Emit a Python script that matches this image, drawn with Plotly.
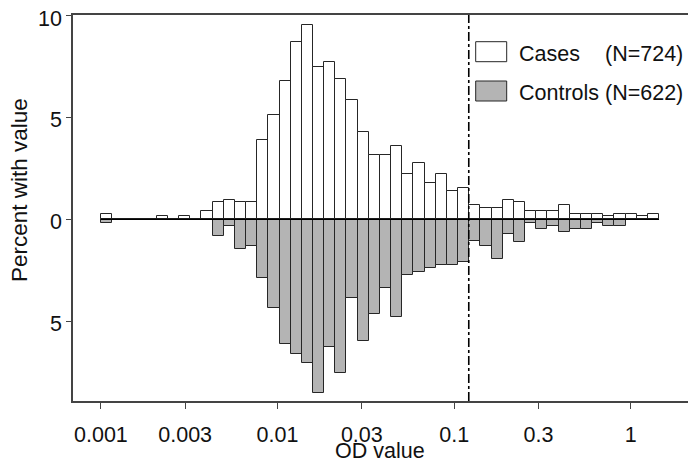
import numpy as np
import plotly.graph_objects as go

# ---- data ----
cases_label = "Cases"
controls_label = "Controls"
cases_n = "(N=724)"
controls_n = "(N=622)"

# percent with value per OD bin (bins equally spaced in log10(OD), starting at 0.001)
cases_pct = [0.28, 0, 0, 0, 0, 0.14, 0, 0.14, 0, 0.41,
             0.83, 0.97, 0.83, 0.83, 3.87, 5.11, 6.77, 8.70, 9.53, 7.46,
             7.73, 6.91, 5.87, 4.28, 3.18, 3.18, 3.59, 2.21, 2.76, 1.80,
             2.21, 1.38, 1.52, 0.69, 0.55, 0.55, 0.97, 0.83, 0.41, 0.41,
             0.41, 0.69, 0.28, 0.28, 0.28, 0.14, 0.28, 0.28, 0.14, 0.28]
controls_pct = [0.16, 0, 0, 0, 0, 0, 0, 0, 0, 0,
                0.80, 0.32, 1.45, 1.29, 2.89, 4.34, 6.11, 6.59, 7.07, 8.52,
                6.27, 7.56, 3.86, 5.95, 4.66, 3.38, 4.82, 2.73, 2.57, 2.41,
                2.25, 2.25, 2.09, 1.05, 1.29, 1.93, 0.72, 1.13, 0.16, 0.48,
                0.32, 0.64, 0.48, 0.48, 0.16, 0.32, 0.32, 0, 0, 0]

first_bin_od = 0.001
bin_log_width = 0.0632
cutoff_od = 0.121

x_tick_values = [0.001, 0.003, 0.01, 0.03, 0.1, 0.3, 1]
x_tick_labels = ["0.001", "0.003", "0.01", "0.03", "0.1", "0.3", "1"]
y_tick_values = [-5, 0, 5, 10]
y_tick_labels = ["5", "0", "5", "10"]
x_title = "OD value"
y_title = "Percent with value"

# ---- derived positions (log10 scale) ----
nb = len(cases_pct)
left_edges = np.log10(first_bin_od) + bin_log_width * np.arange(nb)
centers = left_edges + bin_log_width / 2
x_min_edge = left_edges[0]
x_max_edge = left_edges[-1] + bin_log_width

FONT = "Liberation Sans, Arial, sans-serif"
GRAY = "#b4b4b4"
EDGE = "#262626"
FS = 21.5

fig = go.Figure()
fig.add_trace(go.Bar(x=centers, y=cases_pct, width=bin_log_width,
                     marker=dict(color="white", line=dict(color=EDGE, width=1)),
                     showlegend=False))
fig.add_trace(go.Bar(x=centers, y=[-v for v in controls_pct], width=bin_log_width,
                     marker=dict(color=GRAY, line=dict(color=EDGE, width=1)),
                     showlegend=False))
# zero baseline across the binned range
fig.add_trace(go.Scatter(x=[x_min_edge, x_max_edge], y=[0, 0], mode="lines",
                         line=dict(color="black", width=1.2), showlegend=False,
                         hoverinfo="skip"))

# cutoff line
fig.add_shape(type="line", xref="x", yref="paper",
              x0=np.log10(cutoff_od), x1=np.log10(cutoff_od), y0=0, y1=1,
              line=dict(color="black", width=1.6, dash="dashdot"))

# plot-area pixel geometry
L, R, T, B = 73, 688, 15, 401
W_, H_ = R - L, B - T
def px(xp):
    return (xp - L) / W_
def py(yp):
    return (B - yp) / H_

# manual legend
for (y0, y1, fill, lab, n) in [(41.7, 61.7, "white", cases_label, cases_n),
                                (81, 101, GRAY, controls_label, controls_n)]:
    fig.add_shape(type="rect", xref="paper", yref="paper",
                  x0=px(475.7), x1=px(506.7), y0=py(y1), y1=py(y0),
                  fillcolor=fill, line=dict(color=EDGE, width=1))
    yc = py((y0 + y1) / 2 + 2)
    fig.add_annotation(xref="paper", yref="paper", x=px(517), y=yc,
                       text=lab, showarrow=False, xanchor="left", yanchor="middle",
                       font=dict(family=FONT, size=FS, color="#111"))
    fig.add_annotation(xref="paper", yref="paper", x=px(603), y=yc,
                       text=n, showarrow=False, xanchor="left", yanchor="middle",
                       font=dict(family=FONT, size=FS, color="#111"))

# y tick labels (positive magnitudes on both sides of zero)
for v, t in zip(y_tick_values, y_tick_labels):
    fig.add_annotation(xref="paper", yref="y", x=px(64), y=v, yshift=-3,
                       text=t, showarrow=False, xanchor="right", yanchor="middle",
                       font=dict(family=FONT, size=FS, color="#111"))

# axis titles as annotations
fig.add_annotation(xref="paper", yref="paper", x=px(20), y=py(190),
                   text=y_title, textangle=-90, showarrow=False,
                   xanchor="center", yanchor="middle",
                   font=dict(family=FONT, size=22.5, color="#111"))
fig.add_annotation(xref="paper", yref="paper", x=px(380), y=py(464),
                   text=x_title, showarrow=False, borderpad=0,
                   xanchor="center", yanchor="bottom",
                   font=dict(family=FONT, size=FS, color="#111"))

fig.update_layout(
    width=688, height=464,
    margin=dict(l=L, r=688 - R, t=T, b=464 - B),
    paper_bgcolor="white", plot_bgcolor="white",
    barmode="overlay", bargap=0,
    font=dict(family=FONT, size=FS, color="#111"),
    xaxis=dict(range=[-3.158, 0.324], tickmode="array",
               tickvals=list(np.log10(x_tick_values)), ticktext=x_tick_labels,
               ticks="outside", ticklen=6, tickcolor="#444", tickwidth=1,
               ticklabelstandoff=7, automargin=False,
               showline=True, linecolor="#444", linewidth=1.5, mirror=True,
               showgrid=False, zeroline=False,
               tickfont=dict(family=FONT, size=FS, color="#111")),
    yaxis=dict(range=[-8.92, 10.03], tickmode="array",
               tickvals=y_tick_values, showticklabels=False, automargin=False,
               ticks="outside", ticklen=5, tickcolor="#444", tickwidth=1,
               showline=True, linecolor="#444", linewidth=1.5,
               showgrid=False, zeroline=False),
)

fig.write_html("out.html", config={"displayModeBar": False},
               post_script="document.body.style.margin='0';document.body.style.overflow='hidden';")
